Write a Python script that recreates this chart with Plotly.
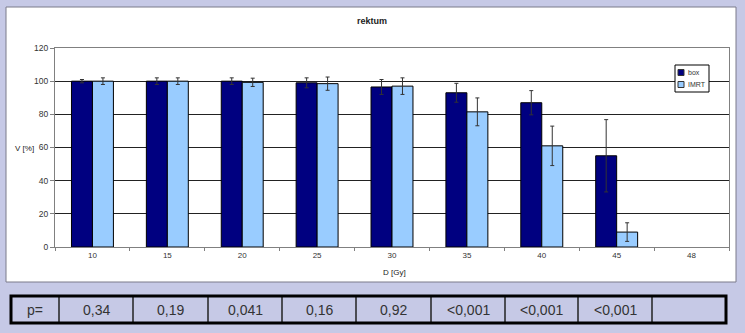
import plotly.graph_objects as go

# ---- data ----
doses = ["10", "15", "20", "25", "30", "35", "40", "45", "48"]
box_vals = [100, 100, 100, 99, 96.5, 93, 87, 55, None]
box_err = [1, 2, 2, 3, 4.5, 5.7, 7.3, 21.8, None]
imrt_vals = [100, 100, 99.3, 98.5, 97, 81.5, 61, 9, None]
imrt_err = [2, 2, 2.5, 4, 5, 8.4, 11.9, 5.6, None]
p_labels = ["p=", "0,34", "0,19", "0,041", "0,16", "0,92", "<0,001", "<0,001", "<0,001", ""]
series_names = ["box", "IMRT"]
series_colors = ["#000080", "#99CCFF"]

W, H = 745, 333
ML, MR, MT, MB = 55, 16, 48, 86
PW = W - ML - MR
PH = H - MT - MB


def px(x):
    return (x - ML) / PW


def py(y):
    return (H - MB - y) / PH


FONT = "Liberation Sans, Arial, sans-serif"

fig = go.Figure()
for name, color, vals, errs in zip(series_names, series_colors, [box_vals, imrt_vals], [box_err, imrt_err]):
    fig.add_trace(go.Bar(
        x=doses, y=vals, name=name,
        marker=dict(color=color, line=dict(color="#000000", width=1)),
        error_y=dict(type="data", array=errs, visible=True, color="#333333", thickness=1, width=2),
    ))

shapes = []
annotations = []


def note(text, x, y, size=8, color="#222", xanchor="center"):
    annotations.append(dict(text=text, x=px(x), y=py(y), xref="paper", yref="paper",
                            xanchor=xanchor, yanchor="middle", showarrow=False,
                            font=dict(family=FONT, size=size, color=color)))


# white chart panel
shapes.append(dict(type="rect", xref="paper", yref="paper", layer="below",
                   x0=px(6), x1=px(736), y0=py(282), y1=py(7),
                   fillcolor="white", line=dict(color="#7a7a8a", width=1)))

# title & axis titles
note("<b>rektum</b>", 372, 21, size=9)
note("V [%]", 25, 148)
note("D [Gy]", 394, 272)

# legend (compact, Excel-like)
shapes.append(dict(type="rect", xref="paper", yref="paper",
                   x0=px(675), x1=px(709), y0=py(92), y1=py(65),
                   fillcolor="white", line=dict(color="#000", width=1)))
for i, (name, color) in enumerate(zip(series_names, series_colors)):
    yc = 72.5 + i * 12
    shapes.append(dict(type="rect", xref="paper", yref="paper",
                       x0=px(678), x1=px(684), y0=py(yc + 3), y1=py(yc - 3),
                       fillcolor=color, line=dict(color="#333", width=1)))
    note(name, 686, yc, size=7, color="#333", xanchor="left")

# p-value table
t_top, t_bot = 296, 323
edges = [11, 59, 133, 208, 282, 356, 431, 505, 578, 652, 726]
for xe in edges[1:-1]:
    shapes.append(dict(type="line", xref="paper", yref="paper",
                       x0=px(xe), x1=px(xe), y0=py(t_bot), y1=py(t_top),
                       line=dict(color="#222", width=1.5)))
shapes.append(dict(type="rect", xref="paper", yref="paper",
                   x0=px(edges[0]), x1=px(edges[-1]), y0=py(t_bot), y1=py(t_top),
                   line=dict(color="#000", width=3)))
for i, lab in enumerate(p_labels):
    if lab:
        note(lab, (edges[i] + edges[i + 1]) / 2, (t_top + t_bot) / 2 + 0.5, size=14, color="#333")

fig.update_layout(
    width=W, height=H,
    margin=dict(l=ML, r=MR, t=MT, b=MB),
    paper_bgcolor="#c6c9e6",
    plot_bgcolor="#c0c0c0",
    barmode="group", bargap=0.44, bargroupgap=0,
    font=dict(family=FONT, size=8, color="#333"),
    showlegend=False,
    shapes=shapes, annotations=annotations,
)
fig.update_xaxes(type="category", showline=True, linecolor="#808080", linewidth=1, mirror=True,
                 ticks="outside", tickson="boundaries", ticklen=3, tickcolor="#808080",
                 showgrid=False, tickfont=dict(size=8, color="#333"))
fig.update_yaxes(range=[0, 120], dtick=20, showline=True, linecolor="#808080", linewidth=1, mirror=True,
                 ticks="outside", ticklen=4, tickcolor="#808080",
                 showgrid=True, gridcolor="#222", gridwidth=1, zeroline=False,
                 tickfont=dict(size=8.5, color="#333"))

fig.write_html("out.html")
